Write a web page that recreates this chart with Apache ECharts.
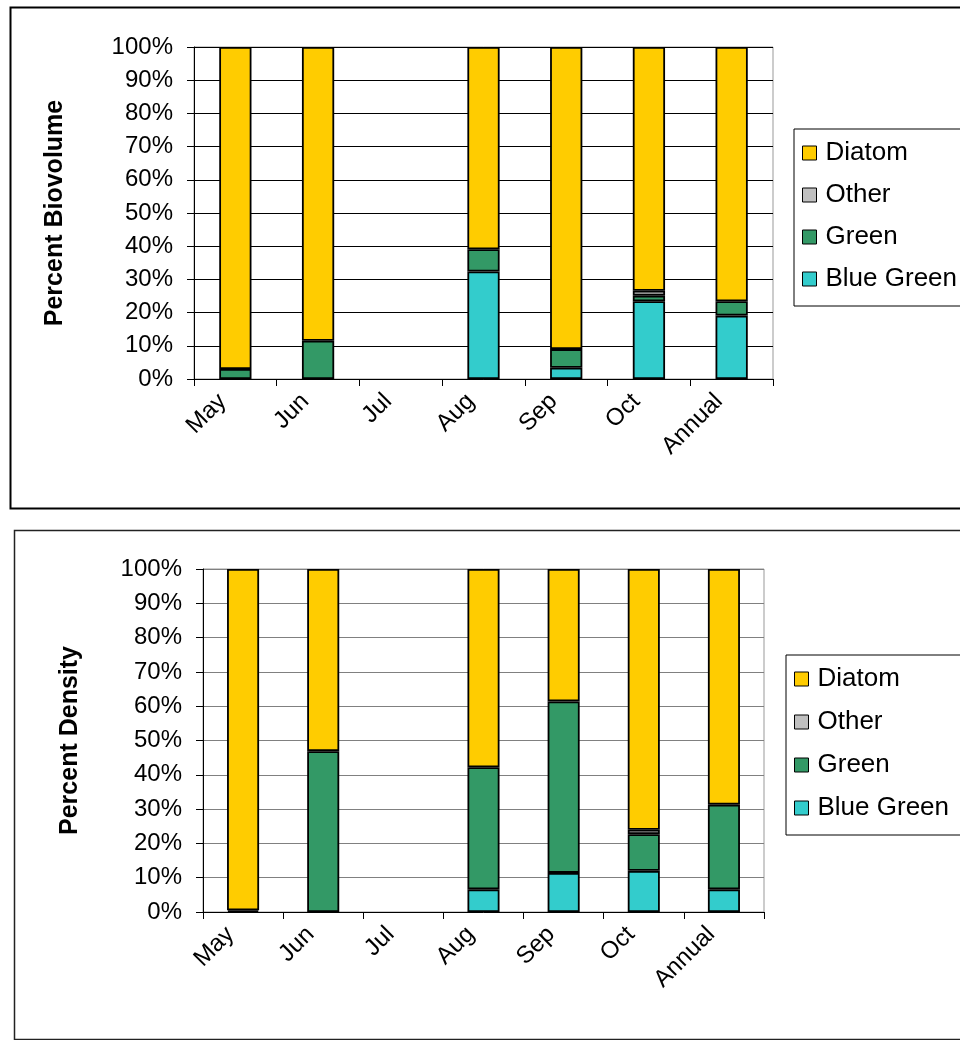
<!DOCTYPE html>
<html>
<head>
<meta charset="utf-8">
<script src="https://cdn.jsdelivr.net/npm/echarts@6/dist/echarts.min.js"></script>
<style>
html,body{margin:0;padding:0;background:#fff;}
#chart{width:960px;height:1040px;}
</style>
</head>
<body>
<div id="chart"></div>
<script>
// ---- data ----
const categories = ['May', 'Jun', 'Jul', 'Aug', 'Sep', 'Oct', 'Annual'];
const seriesNames = ['Blue Green', 'Green', 'Other', 'Diatom'];
const legendOrder = ['Diatom', 'Other', 'Green', 'Blue Green'];
const yTicks = [0, 10, 20, 30, 40, 50, 60, 70, 80, 90, 100];

// Percent Biovolume (top chart)
const bioBlueGreen = [0, 0, 0, 32.4, 3.4, 23.4, 19.1];
const bioGreen     = [3.0, 11.5, 0, 6.7, 5.6, 1.7, 4.3];
const bioOther     = [0, 0, 0, 0, 0, 1.5, 0];
const bioDiatom    = [97.0, 88.5, 0, 60.9, 91.0, 73.4, 76.6];

// Percent Density (bottom chart)
const denBlueGreen = [0, 0, 0, 6.6, 11.4, 12.0, 6.6];
const denGreen     = [0.5, 46.9, 0, 35.6, 50.0, 10.7, 24.7];
const denOther     = [0, 0, 0, 0, 0, 1.3, 0];
const denDiatom    = [99.5, 53.1, 0, 57.8, 38.6, 76.0, 68.7];

const colors = {
  'Blue Green': '#33CCCC',
  'Green': '#339966',
  'Other': '#C0C0C0',
  'Diatom': '#FFCC00'
};

const FONT = '"Liberation Sans", Arial, sans-serif';

function clean(arr) { return arr.map(v => (v === 0 ? null : v)); }

function makeAxes(gridIndex, name, nameGap, splitColor) {
  const xAxis = {
    type: 'category', gridIndex, data: categories,
    axisLine: { show: true, lineStyle: { color: '#000', width: 1 } },
    axisTick: { show: true, alignWithLabel: false, length: 7, lineStyle: { color: '#000' } },
    axisLabel: { rotate: 45, margin: 6, padding: [0, 18, 0, 0], fontSize: 24, color: '#000', fontFamily: FONT, interval: 0 },
    splitLine: { show: false }
  };
  const yAxis = {
    type: 'value', gridIndex, min: yTicks[0], max: yTicks[yTicks.length - 1], interval: 10,
    name, nameLocation: 'middle', nameRotate: 90, nameGap,
    nameTextStyle: { fontSize: 25, fontWeight: 'bold', color: '#000', fontFamily: FONT },
    axisLine: { show: true, lineStyle: { color: '#000', width: 1 } },
    axisTick: { show: true, length: 7, lineStyle: { color: '#000' } },
    axisLabel: { formatter: '{value}%', fontSize: 24, color: '#000', fontFamily: FONT, margin: 21 },
    splitLine: { show: true, lineStyle: { color: splitColor, width: 1 } }
  };
  return [xAxis, yAxis];
}

function makeSeries(idx, arrays, barWidth) {
  return seriesNames.map((n, i) => ({
    name: n, type: 'bar', stack: 'total' + idx,
    xAxisIndex: idx, yAxisIndex: idx,
    barWidth,
    data: clean(arrays[i]),
    itemStyle: { color: colors[n], borderColor: '#000', borderWidth: 1.8 },
    emphasis: { disabled: true }
  }));
}

function makeLegend(left, top, gap) {
  return {
    left, top, orient: 'vertical',
    data: legendOrder,
    icon: 'rect', itemWidth: 14, itemHeight: 14, itemGap: gap,
    padding: [10, 20, 13, 8],
    borderColor: '#000', borderWidth: 1,
    textStyle: { fontSize: 26, color: '#000', fontFamily: FONT, lineHeight: 28, padding: [0, 0, 0, 4] },
    itemStyle: { borderColor: '#000', borderWidth: 1 },
    selectedMode: false
  };
}

const [x1, y1] = makeAxes(0, 'Percent Biovolume', 126, '#000');
const [x2, y2] = makeAxes(1, 'Percent Density', 120, '#808080');

const option = {
  animation: false,
  backgroundColor: '#fff',
  grid: [
    { left: 194, top: 47, width: 579, height: 332, show: true, borderColor: '#999', borderWidth: 1, backgroundColor: 'transparent' },
    { left: 203, top: 569, width: 561, height: 343, show: true, borderColor: '#999', borderWidth: 1, backgroundColor: 'transparent' }
  ],
  xAxis: [x1, x2],
  yAxis: [y1, y2],
  legend: [makeLegend(794, 129, 14), makeLegend(786, 655, 15)],
  series: [
    ...makeSeries(0, [bioBlueGreen, bioGreen, bioOther, bioDiatom], '39%'),
    ...makeSeries(1, [denBlueGreen, denGreen, denOther, denDiatom], '40%')
  ],
  graphic: [
    { type: 'rect', left: 8, top: 5, shape: { width: 980, height: 501 }, style: { fill: 'none', stroke: '#000', lineWidth: 2 }, silent: true },
    { type: 'rect', left: 12, top: 528, shape: { width: 980, height: 509 }, style: { fill: 'none', stroke: '#222', lineWidth: 1.5 }, silent: true }
  ]
};

const chart = echarts.init(document.getElementById('chart'), null, { renderer: 'canvas' });
chart.setOption(option);
</script>
</body>
</html>
